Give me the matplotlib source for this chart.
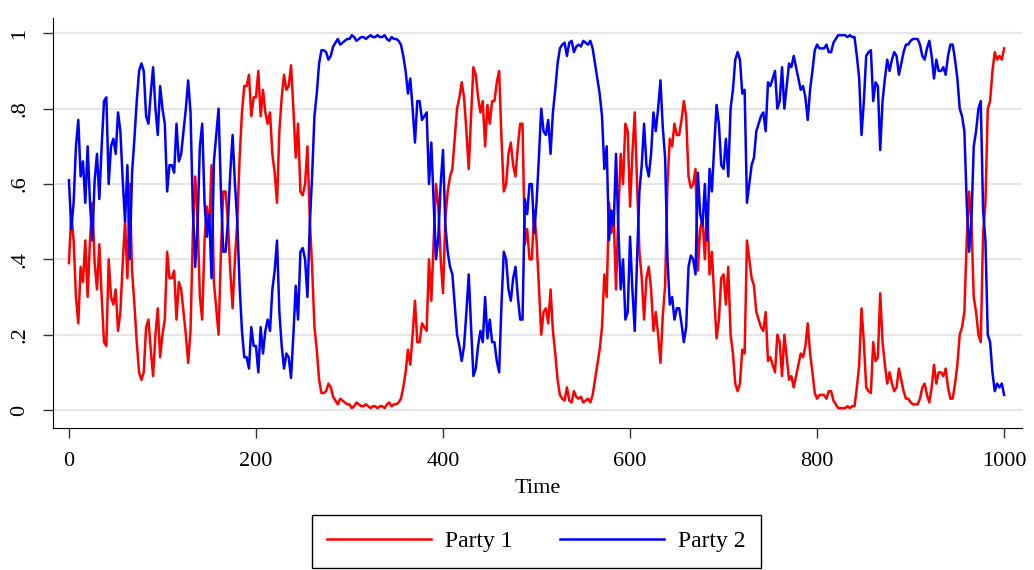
import matplotlib
matplotlib.use("Agg")
import matplotlib.pyplot as plt
import numpy as np

# time axis, one reading every 2.5 steps
time = np.arange(0, 1000.1, 2.5)

party1 = [
    .39, .52, .45, .30, .23, .38, .34, .45, .30, .45,
    .55, .39, .32, .44, .30, .18, .17, .40, .30, .28,
    .32, .21, .26, .39, .50, .35, .60, .37, .28, .18,
    .10, .08, .10, .22, .24, .16, .09, .20, .27, .14,
    .20, .24, .42, .35, .35, .37, .24, .34, .32, .26,
    .20, .125, .21, .47, .62, .51, .30, .24, .45, .54,
    .48, .65, .34, .27, .20, .42, .58, .58, .50, .37,
    .27, .40, .50, .67, .79, .86, .86, .89, .78, .83,
    .83, .90, .78, .85, .79, .76, .79, .68, .63, .55,
    .74, .83, .89, .85, .86, .915, .80, .67, .76, .58,
    .57, .60, .70, .51, .38, .22, .16, .08, .045, .045,
    .05, .07, .06, .035, .025, .015, .03, .025, .02, .015,
    .015, .005, .01, .02, .015, .01, .01, .015, .01, .005,
    .01, .01, .005, .01, .01, .005, .015, .02, .01, .015,
    .015, .02, .03, .06, .10, .16, .12, .20, .29, .18,
    .18, .23, .22, .21, .40, .29, .45, .60, .54, .40,
    .31, .51, .58, .62, .64, .72, .80, .83, .87, .83,
    .74, .64, .78, .91, .89, .83, .79, .82, .70, .81,
    .76, .82, .82, .87, .90, .72, .58, .60, .68, .71,
    .65, .62, .70, .76, .76, .44, .48, .40, .40, .53,
    .45, .33, .20, .26, .27, .23, .32, .21, .15, .08,
    .04, .03, .025, .06, .025, .02, .05, .035, .03, .035,
    .02, .025, .03, .02, .04, .08, .12, .16, .22, .36,
    .30, .55, .47, .51, .32, .52, .68, .60, .76, .74,
    .54, .68, .79, .60, .42, .35, .24, .35, .38, .32,
    .21, .26, .20, .125, .25, .33, .60, .72, .70, .76,
    .73, .73, .77, .82, .78, .62, .59, .60, .64, .37,
    .48, .51, .40, .55, .36, .42, .30, .19, .24, .35,
    .36, .28, .38, .20, .15, .07, .05, .07, .16, .15,
    .45, .40, .35, .33, .26, .24, .22, .21, .26, .13,
    .14, .12, .10, .20, .18, .09, .20, .14, .08, .09,
    .06, .09, .12, .15, .14, .17, .23, .15, .10, .045,
    .03, .04, .04, .04, .03, .05, .05, .025, .015, .005,
    .005, .005, .005, .01, .005, .01, .01, .06, .12, .27,
    .18, .06, .05, .045, .18, .13, .14, .31, .18, .12,
    .07, .10, .07, .05, .06, .11, .08, .05, .03, .03,
    .02, .015, .015, .015, .03, .06, .07, .04, .02, .06,
    .12, .07, .10, .10, .09, .11, .06, .03, .03, .07,
    .12, .20, .22, .26, .45, .58, .50, .30, .26, .20,
    .18, .47, .55, .80, .82, .90, .95, .93, .94, .93,
    .96,
]

party2 = [
    .61, .48, .55, .70, .77, .62, .66, .55, .70, .55,
    .45, .61, .68, .56, .70, .82, .83, .60, .70, .72,
    .68, .79, .74, .61, .50, .65, .40, .63, .72, .82,
    .90, .92, .90, .78, .76, .84, .91, .80, .73, .86,
    .80, .76, .58, .65, .65, .63, .76, .66, .68, .74,
    .80, .875, .79, .53, .38, .49, .70, .76, .55, .46,
    .52, .35, .66, .73, .80, .58, .42, .42, .50, .63,
    .73, .60, .50, .33, .21, .14, .14, .11, .22, .17,
    .17, .10, .22, .15, .21, .24, .21, .32, .37, .45,
    .26, .17, .11, .15, .14, .085, .20, .33, .24, .42,
    .43, .40, .30, .49, .62, .78, .84, .92, .955, .955,
    .95, .93, .94, .965, .975, .985, .97, .975, .98, .985,
    .985, .995, .99, .98, .985, .99, .99, .985, .99, .995,
    .99, .99, .995, .99, .99, .995, .985, .98, .99, .985,
    .985, .98, .97, .94, .90, .84, .88, .80, .71, .82,
    .82, .77, .78, .79, .60, .71, .55, .40, .46, .60,
    .69, .49, .42, .38, .36, .28, .20, .17, .13, .17,
    .26, .36, .22, .09, .11, .17, .21, .18, .30, .19,
    .24, .18, .18, .13, .10, .28, .42, .40, .32, .29,
    .35, .38, .30, .24, .24, .56, .52, .60, .60, .47,
    .55, .67, .80, .74, .73, .77, .68, .79, .85, .92,
    .96, .97, .975, .94, .975, .98, .95, .965, .97, .965,
    .98, .975, .97, .98, .96, .92, .88, .84, .78, .64,
    .70, .45, .53, .49, .68, .48, .32, .40, .24, .26,
    .46, .32, .21, .40, .58, .65, .76, .65, .62, .68,
    .79, .74, .80, .875, .75, .67, .40, .28, .30, .24,
    .27, .27, .23, .18, .22, .38, .41, .40, .36, .63,
    .52, .49, .60, .45, .64, .58, .70, .81, .76, .65,
    .64, .72, .62, .80, .85, .93, .95, .93, .84, .85,
    .55, .60, .65, .67, .74, .76, .78, .79, .74, .87,
    .86, .88, .90, .80, .82, .91, .80, .86, .92, .91,
    .94, .91, .88, .85, .86, .83, .77, .85, .90, .955,
    .97, .96, .96, .96, .97, .95, .95, .975, .985, .995,
    .995, .995, .995, .99, .995, .99, .99, .94, .88, .73,
    .82, .94, .95, .955, .82, .87, .86, .69, .82, .88,
    .93, .90, .93, .95, .94, .89, .92, .95, .97, .97,
    .98, .985, .985, .985, .97, .94, .93, .96, .98, .94,
    .88, .93, .90, .90, .91, .89, .94, .97, .97, .93,
    .88, .80, .78, .74, .55, .42, .50, .70, .74, .80,
    .82, .53, .45, .20, .18, .10, .05, .07, .06, .07,
    .04,
]

xticks = [0, 200, 400, 600, 800, 1000]
yticks = [0, .2, .4, .6, .8, 1]
ylabels = ["0", ".2", ".4", ".6", ".8", "1"]

plt.rcParams["font.family"] = ["Liberation Serif", "DejaVu Serif"]

fig = plt.figure(figsize=(10.34, 5.70), dpi=100)
ax = fig.add_axes([0.0513, 0.249, 0.937, 0.719])

ax.plot(time, party1, color="#ff0000", lw=1.8, label="Party 1")
ax.plot(time, party2, color="#0000ff", lw=1.8, label="Party 2")

ax.set_xlim(-17, 1019)
ax.set_ylim(-0.048, 1.04)
ax.set_xticks(xticks)
ax.set_yticks(yticks)
ax.set_yticklabels(ylabels, rotation=90, va="center")
ax.tick_params(labelsize=16, length=7, color="#333333", width=1, pad=10)
ax.grid(axis="y", color="#e6e6e6", lw=1.5)
ax.set_axisbelow(True)
for s in ["top", "right"]:
    ax.spines[s].set_visible(False)
ax.set_xlabel("Time", fontsize=16, labelpad=6)

leg = fig.legend(loc="center", bbox_to_anchor=(0.519, 0.050), ncol=2, fontsize=17,
                 handlelength=4.4, handletextpad=0.6, columnspacing=2.0, fancybox=False,
                 edgecolor="black", framealpha=1, borderpad=0.65)
leg.get_frame().set_linewidth(1.0)

fig.savefig("out.png", dpi=100)
